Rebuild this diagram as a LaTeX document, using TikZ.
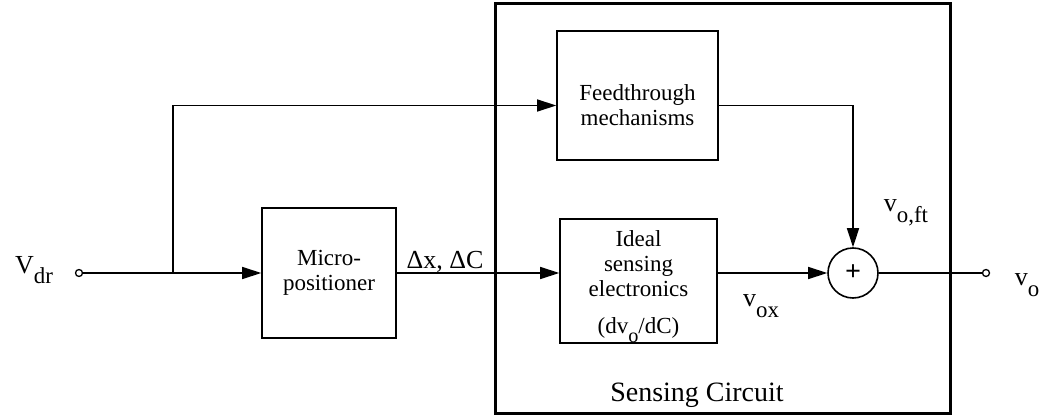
\documentclass[tikz,border=0pt]{standalone}
\usepackage{graphicx}
\usepackage{fontspec}
\setmainfont{Liberation Serif}
\usetikzlibrary{arrows.meta, positioning}

\newcommand{\lowsub}[1]{\raisebox{-0.9ex}{\scalebox{0.88}{#1}}}

\begin{document}
\begin{tikzpicture}[x=1pt, y=-1pt,
		block/.style={
			rectangle,
			draw=black,
			line width=1.6pt,
			inner sep=0pt,
			align=center,
			font=\fontsize{23}{25}\selectfont
		},
		sumnode/.style={circle, draw, line width=1.6pt, minimum size=50pt, inner sep=0pt,
			font=\fontsize{28}{28}\selectfont\bfseries},
		term/.style={circle, draw, line width=1.3pt, minimum size=7pt, inner sep=0pt},
		sig/.style={font=\fontsize{26}{28}\selectfont},
		arrow/.style={-{Triangle[length=19pt,width=12pt]}, line width=1.6pt}]

		\useasboundingbox (0,0) rectangle (1046,417);

		% sensing circuit frame
		\node [draw, line width=3pt, minimum width=455pt, minimum height=409pt] (sens) at (722.5,208.5) {};
		\node [font=\fontsize{28}{30}\selectfont] (sclabel) at (697,395) {Sensing Circuit};

		\node [block, minimum width=134pt, minimum height=130pt] (micro) at (329,273) {Micro-\\positioner};
		\node [block, minimum width=161pt, minimum height=129pt] (feed) at (637.5,95.5) {\rule{0pt}{36pt}Feedthrough\\mechanisms};
		\node [block, minimum width=157pt, minimum height=122pt] (ideal) at (638.5,281) {\rule{0pt}{27pt}Ideal\\sensing\\electronics\\[12pt](dv\lowsub{o}/dC)};
		\node [sumnode] (sum) at (853,273) {+};

		\node [term] (in) at (79,273) {};
		\node [term] (out) at (986,273) {};
		\coordinate (br) at (173,273);

		\node [sig] (vdr) at (34,270) {V\lowsub{dr}};
		\node [sig] (dxdc) at (445,262) {Δx, ΔC};
		\node [sig] (vox) at (761,306) {v\lowsub{ox}};
		\node [sig] (voft) at (906,213) {v\lowsub{o,ft}};
		\node [sig] (vo) at (1027,285) {v\lowsub{o}};

		\draw [arrow] (in) -- (micro.west);
		\draw [arrow] (br) |- ([yshift=-10pt]feed.west);
		\draw [arrow] (micro.east) -- (micro.east -| ideal.west);
		\draw [arrow] (ideal.east |- sum.west) -- (sum.west);
		\draw [arrow] ([yshift=-10pt]feed.east) -| (sum.north);
		\draw [line width=1.6pt] (sum.east) -- (out);
	\end{tikzpicture}
\end{document}
